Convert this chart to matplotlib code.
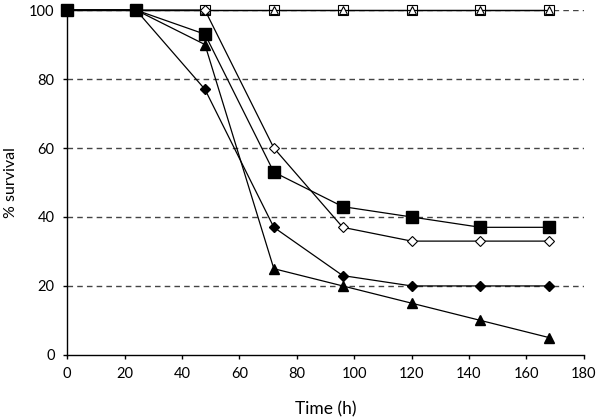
import numpy as np
import matplotlib
matplotlib.use("Agg")
import matplotlib.pyplot as plt

plt.rcParams['font.family'] = ['Lato', 'DejaVu Sans']

# data
time_h = [0, 24, 48, 72, 96, 120, 144, 168]
filled_sq = [100, 100, 93, 53, 43, 40, 37, 37]
open_dia = [100, 100, 100, 60, 37, 33, 33, 33]
filled_dia = [100, 100, 77, 37, 23, 20, 20, 20]
filled_tri = [100, 100, 90, 25, 20, 15, 10, 5]
open_sq = [100, 100, 100, 100, 100, 100, 100, 100]
open_tri = [100, 100, 100, 100, 100, 100, 100, 100]

fig = plt.figure(figsize=(6, 4.2), dpi=100)
ax = fig.add_axes([0.112, 0.155, 0.861, 0.821])

for yv in [20, 40, 60, 80, 100]:
    ax.axhline(yv, color='#444444', lw=1, ls=(0, (4, 3)), zorder=0)

lw = 0.9
ax.plot(time_h, open_sq, color='black', lw=lw, marker='s', ms=7.5, mfc='white', mec='black', mew=0.8, zorder=2, clip_on=False)
ax.plot(time_h, open_tri, color='black', lw=lw, marker='^', ms=6, mfc='white', mec='black', mew=0.8, zorder=3, clip_on=False)
ax.plot(time_h, open_dia, color='black', lw=lw, marker='D', ms=5.5, mfc='white', mec='black', mew=0.8, zorder=3, clip_on=False)
ax.plot(time_h, filled_dia, color='black', lw=lw, marker='D', ms=5.5, mfc='black', mec='black', zorder=4, clip_on=False)
ax.plot(time_h, filled_tri, color='black', lw=lw, marker='^', ms=6.5, mfc='black', mec='black', zorder=4, clip_on=False)
ax.plot(time_h, filled_sq, color='black', lw=lw, marker='s', ms=8, mfc='black', mec='black', zorder=5, clip_on=False)

ax.set_xlim(0, 180)
ax.set_ylim(0, 100)
ax.set_xticks(np.arange(0, 181, 20))
ax.set_yticks(np.arange(0, 101, 20))
ax.tick_params(direction='out', length=3, width=1, labelsize=10.5, pad=6)
ax.spines['top'].set_visible(False)
ax.spines['right'].set_visible(False)
for s in ['left', 'bottom']:
    ax.spines[s].set_linewidth(1)
    ax.spines[s].set_color('black')

ax.set_xlabel('Time (h)', fontsize=12.5, labelpad=14)
ax.set_ylabel('% survival', fontsize=11.5, labelpad=8)

fig.savefig('out.png', dpi=100)
